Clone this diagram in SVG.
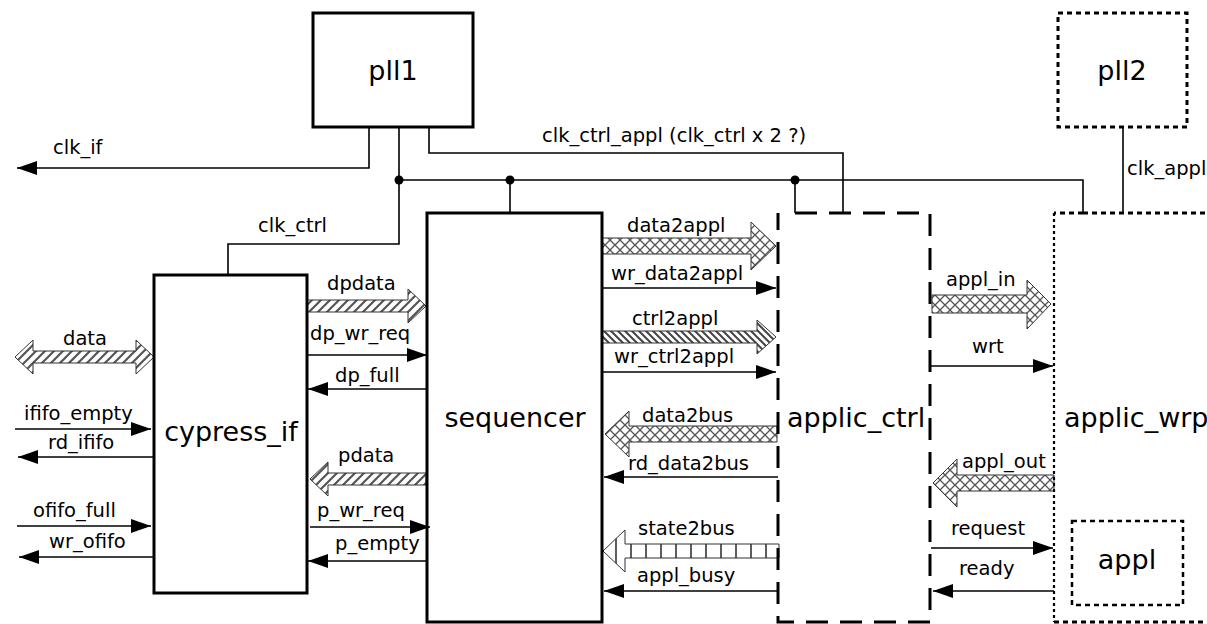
<svg xmlns="http://www.w3.org/2000/svg" width="1207" height="624" viewBox="0 0 1207 624">
<style>
.t{font-family:"DejaVu Sans",Verdana,sans-serif;font-size:19.5px;fill:#000}
.big{font-family:"DejaVu Sans",Verdana,sans-serif;font-size:27px;fill:#000}
.w{fill:none;stroke:#000;stroke-width:1.6}
.box{fill:none;stroke:#000;stroke-width:3}
.dash{fill:none;stroke:#000;stroke-width:3;stroke-dasharray:22 12}
.dot{fill:none;stroke:#000;stroke-width:3;stroke-dasharray:5 4}
.bus{stroke:#333;stroke-width:1}
</style>
<defs>
<marker id="ah" markerUnits="userSpaceOnUse" markerWidth="20" markerHeight="14" refX="20" refY="7" orient="auto"><path d="M0,0 L20,7 L0,14 z" fill="#000"/></marker>
<pattern id="fw" patternUnits="userSpaceOnUse" width="9" height="9"><rect width="9" height="9" fill="#fff"/><path d="M-2,2 L2,-2 M0,9 L9,0 M7,11 L11,7" stroke="#555" stroke-width="2.2"/></pattern>
<pattern id="bw" patternUnits="userSpaceOnUse" width="7" height="7"><rect width="7" height="7" fill="#fff"/><path d="M-2,5 L2,9 M0,0 L7,7 M5,-2 L9,2" stroke="#444" stroke-width="2"/></pattern>
<pattern id="cx" patternUnits="userSpaceOnUse" width="10" height="10"><rect width="10" height="10" fill="#fff"/><path d="M0,0 L10,10 M10,0 L0,10" stroke="#555" stroke-width="1.3"/></pattern>
<pattern id="vl" patternUnits="userSpaceOnUse" width="15" height="10"><rect width="15" height="10" fill="#fff"/><path d="M1,0 V10" stroke="#333" stroke-width="1.6"/></pattern>
</defs>

<g id="connectors">
<path class="w" d="M369,127 V168 H17" marker-end="url(#ah)"/>
<path class="w" d="M399,127 V244 H228 V275"/>
<path class="w" d="M399,180 H1083 V213"/>
<path class="w" d="M510,180 V213"/>
<path class="w" d="M795,180 V213"/>
<path class="w" d="M429,127 V153 H843 V213"/>
<path class="w" d="M1123,127 V213"/>
<circle cx="399" cy="180" r="4.5"/>
<circle cx="510" cy="180" r="4.5"/>
<circle cx="795" cy="180" r="4.5"/>

<path class="w" d="M15,429 H151" marker-end="url(#ah)"/>
<path class="w" d="M154,457 H18" marker-end="url(#ah)"/>
<path class="w" d="M17,526 H151" marker-end="url(#ah)"/>
<path class="w" d="M154,557 H19" marker-end="url(#ah)"/>

<path class="w" d="M307,355 H427" marker-end="url(#ah)"/>
<path class="w" d="M427,389 H308" marker-end="url(#ah)"/>
<path class="w" d="M310,527 H430" marker-end="url(#ah)"/>
<path class="w" d="M427,561 H308" marker-end="url(#ah)"/>

<path class="w" d="M602,288 H776" marker-end="url(#ah)"/>
<path class="w" d="M602,372 H776" marker-end="url(#ah)"/>
<path class="w" d="M778,477 H604" marker-end="url(#ah)"/>
<path class="w" d="M778,591 H604" marker-end="url(#ah)"/>

<path class="w" d="M931,366 H1053" marker-end="url(#ah)"/>
<path class="w" d="M931,548 H1053" marker-end="url(#ah)"/>
<path class="w" d="M1054,591 H933" marker-end="url(#ah)"/>

<path class="bus" fill="url(#fw)" d="M15,357 L33,340 L33,351 L136,351 L136,340 L154,357 L136,374 L136,363 L33,363 L33,374 Z"/>
<path class="bus" fill="url(#fw)" d="M307,300 L408,300 L408,289 L426,306 L408,323 L408,312 L307,312 Z"/>
<path class="bus" fill="url(#fw)" d="M426,473 L328,473 L328,462 L310,479 L328,496 L328,485 L426,485 Z"/>
<path class="bus" fill="url(#cx)" d="M602,238 L751,238 L751,222 L776,246 L751,270 L751,254 L602,254 Z"/>
<path class="bus" fill="url(#bw)" d="M602,331 L757,331 L757,320 L776,337 L757,354 L757,343 L602,343 Z"/>
<path class="bus" fill="url(#cx)" d="M777,426 L629,426 L629,411 L605,434 L629,457 L629,442 L777,442 Z"/>
<path class="bus" fill="url(#vl)" d="M779,544 L625,544 L625,530 L603,551 L625,572 L625,558 L779,558 Z"/>
<path class="bus" fill="url(#cx)" d="M932,295 L1027,295 L1027,280 L1051,304 L1027,329 L1027,313 L932,313 Z"/>
<path class="bus" fill="url(#cx)" d="M1054,475 L957,475 L957,459 L933,483 L957,507 L957,491 L1054,491 Z"/>
</g>

<g id="labels">
<text class="t" x="53" y="154">clk_if</text>
<text class="t" x="258" y="232">clk_ctrl</text>
<text class="t" x="542" y="142">clk_ctrl_appl (clk_ctrl x 2 ?)</text>
<text class="t" x="1127" y="175">clk_appl</text>
<text class="t" x="63" y="345">data</text>
<text class="t" x="24" y="420">ififo_empty</text>
<text class="t" x="48" y="449">rd_ififo</text>
<text class="t" x="33" y="517">ofifo_full</text>
<text class="t" x="49" y="548">wr_ofifo</text>
<text class="t" x="327" y="290">dpdata</text>
<text class="t" x="310" y="340">dp_wr_req</text>
<text class="t" x="335" y="382">dp_full</text>
<text class="t" x="338" y="462">pdata</text>
<text class="t" x="317" y="517">p_wr_req</text>
<text class="t" x="335" y="550">p_empty</text>
<text class="t" x="627" y="232">data2appl</text>
<text class="t" x="611" y="280">wr_data2appl</text>
<text class="t" x="632" y="325">ctrl2appl</text>
<text class="t" x="614" y="363">wr_ctrl2appl</text>
<text class="t" x="642" y="422">data2bus</text>
<text class="t" x="628" y="470">rd_data2bus</text>
<text class="t" x="638" y="535">state2bus</text>
<text class="t" x="637" y="582">appl_busy</text>
<text class="t" x="946" y="286">appl_in</text>
<text class="t" x="972" y="353">wrt</text>
<text class="t" x="962" y="468">appl_out</text>
<text class="t" x="951" y="535">request</text>
<text class="t" x="959" y="575">ready</text>
</g>

<g id="pll1">
<rect class="box" x="313" y="13" width="160" height="114"/>
<text class="big" x="393" y="80" text-anchor="middle">pll1</text>
</g>
<g id="pll2">
<rect class="dot" x="1058" y="13" width="129" height="114"/>
<text class="big" x="1122" y="80" text-anchor="middle">pll2</text>
</g>
<g id="cypress_if">
<rect class="box" x="154" y="275" width="153" height="318"/>
<text class="big" x="231" y="441" text-anchor="middle">cypress_if</text>
</g>
<g id="sequencer">
<rect class="box" x="427" y="213" width="175" height="409"/>
<text class="big" x="515" y="427" text-anchor="middle">sequencer</text>
</g>
<g id="applic_ctrl">
<path class="dash" d="M795,213 H930 V622 H778 V213"/>
<text class="big" x="787" y="427">applic_ctrl</text>
</g>
<g id="applic_wrp">
<path class="dot" d="M1083,213 H1210"/>
<path class="dot" d="M1083,213 H1054"/>
<path d="M1054,213 V622" fill="none" stroke="#000" stroke-width="2.2" stroke-dasharray="3 3"/>
<path class="dot" d="M1054,622 H1210"/>
<text class="big" x="1064" y="427">applic_wrp</text>
</g>
<g id="appl">
<rect class="dot" x="1072" y="521" width="111" height="84" style="stroke-width:2.5"/>
<text class="big" x="1127" y="569" text-anchor="middle">appl</text>
</g>
</svg>
